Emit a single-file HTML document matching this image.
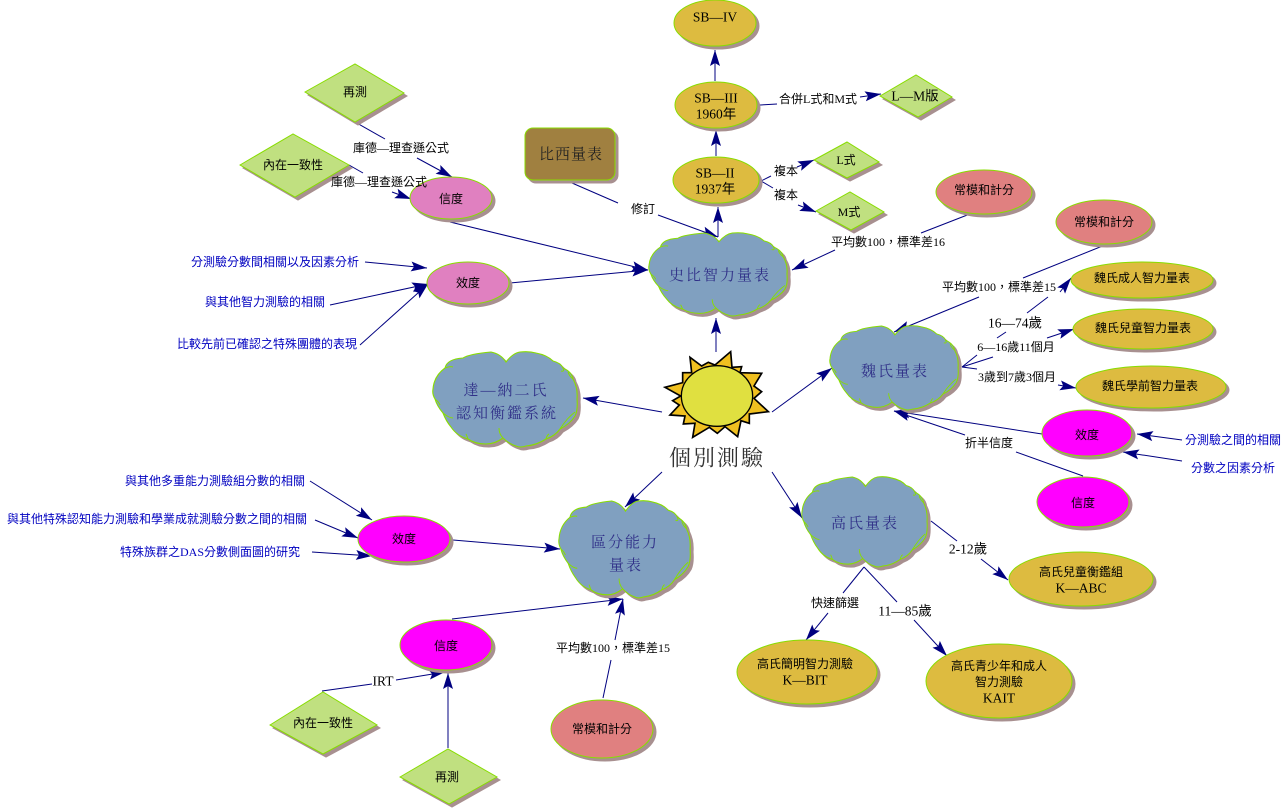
<!DOCTYPE html>
<html>
<head>
<meta charset="utf-8">
<style>
html,body{margin:0;padding:0;background:#fff;width:1287px;height:808px;overflow:hidden}
svg{display:block}
.s{filter:drop-shadow(3px 3px 0 #a89090)}
.s>*,.o{stroke:#88dd00;stroke-width:1}
.g{fill:#ddbb40}.p{fill:#e080c0}.m{fill:#ff00ff}.r{fill:#e08080}.d{fill:#c0e080}.c{fill:#80a0c0}.b{fill:#a08040}
.l line{stroke:#000080;stroke-width:1}
.a line{marker-end:url(#h)}
text{font-family:"Liberation Serif","Noto Sans CJK TC","Noto Sans CJK SC",sans-serif;font-size:12px;text-anchor:middle;dominant-baseline:central;fill:#000}
.la{font-size:13.5px}
.bl{fill:#0000c0}
.cl{font-family:"Liberation Serif","Noto Serif CJK SC",serif;font-size:15px;letter-spacing:2px;fill:#303088}
.ti{font-family:"Liberation Serif","Noto Serif CJK SC",serif;font-size:22px;letter-spacing:2px;fill:#333}
.br{font-family:"Liberation Serif","Noto Serif CJK SC",serif;font-size:15px;letter-spacing:1px;fill:#222}
</style>
</head>
<body>
<svg width="1287" height="808" viewBox="0 0 1287 808" xmlns="http://www.w3.org/2000/svg">
<defs>
<marker id="h" markerUnits="userSpaceOnUse" markerWidth="20" markerHeight="14" refX="17" refY="7" orient="auto">
<path d="M1 2 L17 7 L1 12 L4 7 Z" fill="#000080"/>
</marker>
<g id="cloud">
<path fill="#80a0c0" stroke="#88dd00" stroke-width="1.1" d="M0 37 Q1 24 12 16 Q14 7 30 6 Q36 2 58 0 Q68 2 73 10 Q80 1 87 0 Q96 -1 103 1 Q114 3 120 9 Q128 11 130 16 Q139 20 140 27 Q145 36 144 47 Q145 58 142 64 Q137 72 127 77 Q122 84 113 87 Q104 93 93 94 Q87 96 83 94 Q76 92 70 86 Q62 92 53 92 Q42 92 35 87 Q24 84 18 75 Q13 69 10 61 Q4 54 2 47 Q-1 42 0 37 Z"/>
<path fill="none" stroke="#88dd00" stroke-width="1" d="M12 16 Q17 14 20 15 M2 47 Q6 50 7 53 M10 61 Q16 66 20 66 M35 87 Q34 84 33 82 M70 86 Q66 82 66 76 M113 87 Q114 83 116 82 M127 77 Q134 66 142 60 M130 16 Q132 20 128 19 M140 27 Q136 24 135 20"/>
</g>
</defs>

<!-- connectors -->
<g class="l">
<line x1="355" y1="122" x2="385" y2="139"/>
<line x1="349" y1="165" x2="363" y2="173"/>
<line x1="450" y1="222" x2="648" y2="270" marker-end="url(#h)"/>
<line x1="572" y1="183" x2="618" y2="203"/>
<line x1="760" y1="105" x2="777" y2="104"/>
<line x1="761" y1="181" x2="771" y2="176"/>
<line x1="761" y1="181" x2="773" y2="188"/>
<line x1="921" y1="233" x2="975" y2="212"/>
<line x1="1023" y1="278" x2="1105" y2="245"/>
<line x1="962" y1="367" x2="977" y2="355"/>
<line x1="997" y1="338" x2="1006" y2="332"/>
<line x1="1027" y1="313" x2="1048" y2="297"/>
<line x1="962" y1="367" x2="993" y2="357"/>
<line x1="962" y1="367" x2="977" y2="369"/>
<line x1="1083" y1="476" x2="1016" y2="452"/>
<line x1="931" y1="521" x2="957" y2="541"/>
<line x1="864" y1="567" x2="843" y2="593"/>
<line x1="864" y1="567" x2="897" y2="602"/>
<line x1="322" y1="691" x2="372" y2="684"/>
<line x1="603" y1="698" x2="611" y2="660"/>
</g>
<g class="l a">
<line x1="417" y1="158" x2="452" y2="177"/>
<line x1="392" y1="192" x2="411" y2="199"/>
<line x1="510" y1="283" x2="648" y2="270"/>
<line x1="365" y1="262" x2="427" y2="268"/>
<line x1="330" y1="305" x2="428" y2="284"/>
<line x1="360" y1="345" x2="428" y2="284"/>
<line x1="658" y1="215" x2="718" y2="237"/>
<line x1="715" y1="81" x2="715" y2="50"/>
<line x1="716" y1="156" x2="716" y2="130"/>
<line x1="718" y1="237" x2="718" y2="207"/>
<line x1="860" y1="97" x2="881" y2="94"/>
<line x1="797" y1="167" x2="814" y2="160"/>
<line x1="798" y1="205" x2="816" y2="212"/>
<line x1="835" y1="250" x2="792" y2="270"/>
<line x1="716" y1="352" x2="716" y2="318"/>
<line x1="979" y1="297" x2="894" y2="332"/>
<line x1="1060" y1="292" x2="1071" y2="278"/>
<line x1="1047" y1="338" x2="1074" y2="329"/>
<line x1="1058" y1="385" x2="1076" y2="388"/>
<line x1="1042" y1="434" x2="894" y2="411"/>
<line x1="965" y1="435" x2="894" y2="411"/>
<line x1="1182" y1="440" x2="1137" y2="434"/>
<line x1="1182" y1="461" x2="1123" y2="452"/>
<line x1="772" y1="412" x2="832" y2="368"/>
<line x1="662" y1="412" x2="583" y2="398"/>
<line x1="662" y1="472" x2="625" y2="507"/>
<line x1="772" y1="472" x2="802" y2="518"/>
<line x1="453" y1="540" x2="560" y2="549"/>
<line x1="310" y1="481" x2="372" y2="520"/>
<line x1="315" y1="520" x2="358" y2="538"/>
<line x1="312" y1="552" x2="372" y2="556"/>
<line x1="452" y1="619" x2="623" y2="599"/>
<line x1="615" y1="640" x2="623" y2="599"/>
<line x1="396" y1="680" x2="445" y2="672"/>
<line x1="448" y1="748" x2="448" y2="673"/>
<line x1="981" y1="559" x2="1008" y2="580"/>
<line x1="828" y1="613" x2="806" y2="640"/>
<line x1="914" y1="620" x2="947" y2="656"/>
</g>

<!-- clouds -->
<g style="filter:drop-shadow(3px 3px 0 #a89090)"><use href="#cloud" transform="translate(649 233) scale(.958 .874)"/></g>
<g style="filter:drop-shadow(3px 3px 0 #a89090)"><use href="#cloud" transform="translate(830 326) scale(.889 .884)"/></g>
<g style="filter:drop-shadow(3px 3px 0 #a89090)"><use href="#cloud" transform="translate(433 352) scale(1 1)"/></g>
<g style="filter:drop-shadow(3px 3px 0 #a89090)"><use href="#cloud" transform="translate(802 477) scale(.868 .947)"/></g>
<g style="filter:drop-shadow(3px 3px 0 #a89090)"><use href="#cloud" transform="translate(559 501) scale(.91 1.02)"/></g>

<!-- brown box -->
<g class="s"><rect class="b" x="525" y="128" width="90" height="52" rx="8" ry="8"/></g>

<!-- ellipses -->
<g class="s"><ellipse class="g" cx="715" cy="23" rx="41" ry="23"/></g>
<g class="s"><ellipse class="g" cx="716" cy="105" rx="41" ry="23"/></g>
<g class="s"><ellipse class="g" cx="716" cy="180" rx="43" ry="23"/></g>
<g class="s"><ellipse class="p" cx="451" cy="198" rx="41" ry="21"/></g>
<g class="s"><ellipse class="p" cx="468" cy="283" rx="41" ry="21"/></g>
<g class="s"><ellipse class="r" cx="984" cy="192" rx="48" ry="22"/></g>
<g class="s"><ellipse class="r" cx="1104" cy="222" rx="48" ry="22"/></g>
<g class="s"><ellipse class="g" cx="1142" cy="280" rx="71" ry="18"/></g>
<g class="s"><ellipse class="g" cx="1143" cy="329" rx="70" ry="20"/></g>
<g class="s"><ellipse class="g" cx="1151" cy="387" rx="75" ry="21"/></g>
<g class="s"><ellipse class="m" cx="1087" cy="433" rx="45" ry="23"/></g>
<g class="s"><ellipse class="m" cx="1083" cy="502" rx="46" ry="25"/></g>
<g class="s"><ellipse class="m" cx="404" cy="539" rx="46" ry="23"/></g>
<g class="s"><ellipse class="m" cx="446" cy="645" rx="46" ry="25"/></g>
<g class="s"><ellipse class="r" cx="602" cy="729" rx="51" ry="29"/></g>
<g class="s"><ellipse class="g" cx="1081" cy="579" rx="72" ry="27"/></g>
<g class="s"><ellipse class="g" cx="807" cy="672" rx="70" ry="32"/></g>
<g class="s"><ellipse class="g" cx="999" cy="681" rx="73" ry="37"/></g>

<!-- diamonds -->
<g class="s"><polygon class="d" points="305,92 355,64 404,93 355,122"/></g>
<g class="s"><polygon class="d" points="240,165 293,134 349,165 295,197"/></g>
<g class="s"><polygon class="d" points="880,96 916,75 952,97 918,117"/></g>
<g class="s"><polygon class="d" points="814,160 847,142 879,162 847,178"/></g>
<g class="s"><polygon class="d" points="816,211 850,192 884,212 851,230"/></g>
<g class="s"><polygon class="d" points="270,725 323,692 377,725 323,754"/></g>
<g class="s"><polygon class="d" points="400,777 448,749 497,777 449,804"/></g>

<!-- sun -->
<g transform="translate(640 330) scale(.3333)">
<polygon fill="#f0c020" stroke="#000" stroke-width="5" stroke-linejoin="miter" points="150,82 185,108 205,97 225,105 272,65 276,112 305,110 300,128 365,130 342,168 365,185 342,205 385,245 328,252 328,280 303,272 293,320 255,290 232,310 208,292 158,322 165,280 130,282 135,258 90,255 118,225 98,212 122,198 75,172 128,158 128,128 155,128"/>
<ellipse cx="231" cy="198" rx="107" ry="91" fill="#e0e040" stroke="#000" stroke-width="4"/>
</g>

<!-- labels -->
<text class="la" x="715" y="17">SB—IV</text>
<text class="la" x="716" y="98">SB—III</text>
<text class="la" x="716" y="114">1960年</text>
<text class="la" x="715" y="173">SB—II</text>
<text class="la" x="715" y="189">1937年</text>
<text x="355" y="92">再測</text>
<text x="293" y="165">內在一致性</text>
<text x="401" y="148">庫德—理查遜公式</text>
<text x="379" y="182">庫德—理查遜公式</text>
<text x="451" y="199">信度</text>
<text x="468" y="283">效度</text>
<text class="br" x="571" y="155">比西量表</text>
<text x="643" y="209">修訂</text>
<text x="818" y="99">合併L式和M式</text>
<text class="la" x="915" y="96">L—M版</text>
<text x="786" y="171">複本</text>
<text x="786" y="195">複本</text>
<text x="846" y="160">L式</text>
<text x="849" y="212">M式</text>
<text x="984" y="190">常模和計分</text>
<text x="1104" y="222">常模和計分</text>
<text x="888" y="242">平均數100，標準差16</text>
<text x="999" y="287">平均數100，標準差15</text>
<text class="bl" x="275" y="262">分測驗分數間相關以及因素分析</text>
<text class="bl" x="265" y="302">與其他智力測驗的相關</text>
<text class="bl" x="267" y="344">比較先前已確認之特殊團體的表現</text>
<text class="cl" x="720" y="276">史比智力量表</text>
<text class="cl" x="895" y="372">魏氏量表</text>
<text class="cl" x="506" y="391">達—納二氏</text>
<text class="cl" x="507" y="414">認知衡鑑系統</text>
<text class="cl" x="865" y="524">高氏量表</text>
<text class="cl" x="625" y="543">區分能力</text>
<text class="cl" x="626" y="566">量表</text>
<text class="ti" x="717" y="458">個別測驗</text>
<text class="la" x="1015" y="323">16—74歲</text>
<text x="1016" y="347">6—16歲11個月</text>
<text x="1017" y="377">3歲到7歲3個月</text>
<text x="1142" y="278">魏氏成人智力量表</text>
<text x="1143" y="328">魏氏兒童智力量表</text>
<text x="1150" y="386">魏氏學前智力量表</text>
<text x="1087" y="435">效度</text>
<text x="1083" y="503">信度</text>
<text x="989" y="443">折半信度</text>
<text class="bl" x="1233" y="440">分測驗之間的相關</text>
<text class="bl" x="1233" y="468">分數之因素分析</text>
<text x="404" y="539">效度</text>
<text class="bl" x="215" y="481">與其他多重能力測驗組分數的相關</text>
<text class="bl" x="157" y="519">與其他特殊認知能力測驗和學業成就測驗分數之間的相關</text>
<text class="bl" x="210" y="552">特殊族群之DAS分數側面圖的研究</text>
<text x="446" y="646">信度</text>
<text class="la" x="383" y="681">IRT</text>
<text x="323" y="723">內在一致性</text>
<text x="447" y="777">再測</text>
<text x="602" y="729">常模和計分</text>
<text x="613" y="648">平均數100，標準差15</text>
<text class="la" x="968" y="549">2-12歲</text>
<text x="1081" y="572">高氏兒童衡鑑組</text>
<text class="la" x="1081" y="588">K—ABC</text>
<text x="835" y="603">快速篩選</text>
<text class="la" x="905" y="611">11—85歲</text>
<text x="805" y="664">高氏簡明智力測驗</text>
<text class="la" x="805" y="680">K—BIT</text>
<text x="999" y="666">高氏青少年和成人</text>
<text x="999" y="682">智力測驗</text>
<text class="la" x="999" y="698">KAIT</text>
</svg>
</body>
</html>
